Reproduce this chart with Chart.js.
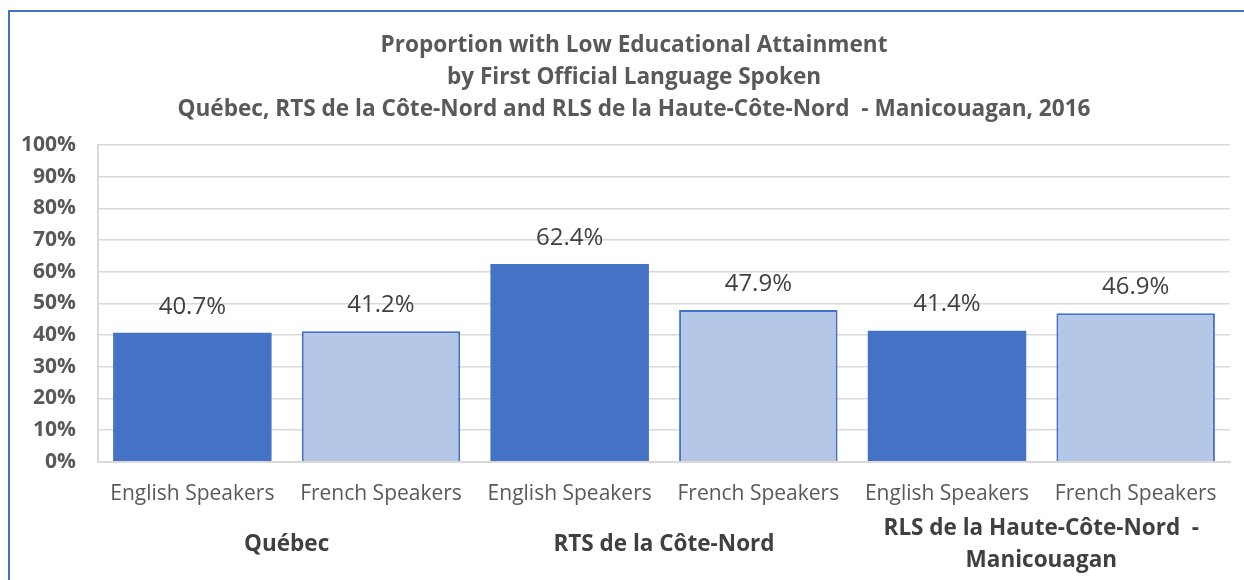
<!DOCTYPE html>
<html>
<head>
<meta charset="utf-8">
<script src="https://cdn.jsdelivr.net/npm/chart.js@4.4.0/dist/chart.umd.min.js"></script>
<style>
  html, body { margin: 0; padding: 0; background: #fff; }
  #wrap { position: relative; width: 1244px; height: 580px; overflow: hidden; }
  #frame { position: absolute; left: 8px; top: 10px; width: 1300px; height: 700px;
           border-left: 2px solid #4472C4; border-top: 2px solid #4472C4; pointer-events: none; }
  canvas { position: absolute; left: 0; top: 0; }
</style>
</head>
<body>
<div id="wrap">
  <canvas id="c" width="1244" height="580"></canvas>
  <div id="frame"></div>
</div>
<script>
const titleLines = [
  'Proportion with Low Educational Attainment',
  'by First Official Language Spoken',
  'Québec, RTS de la Côte-Nord and RLS de la Haute-Côte-Nord  - Manicouagan, 2016'
];
const categories = ['English Speakers', 'French Speakers', 'English Speakers', 'French Speakers', 'English Speakers', 'French Speakers'];
const groups = ['Québec', 'RTS de la Côte-Nord', ['RLS de la Haute-Côte-Nord  -', 'Manicouagan']];
const values = [40.7, 41.2, 62.4, 47.9, 41.4, 46.9];
const yTicks = [0, 10, 20, 30, 40, 50, 60, 70, 80, 90, 100];

const FONT = "'Open Sans', 'DejaVu Sans', sans-serif";
const english = '#4472C4', french = '#B4C7E7';
const fills = categories.map(c => c.startsWith('English') ? english : french);
const borders = categories.map(c => c.startsWith('English') ? 0 : 2);

const noClipPlugin = {
  id: 'noLabelClip',
  beforeDraw(chart) {
    chart.scales.y._computeLabelArea = () => undefined;
  }
};

const labelPlugin = {
  id: 'valueLabels',
  afterDatasetsDraw(chart) {
    const ctx = chart.ctx;
    const meta = chart.getDatasetMeta(0);
    ctx.save();
    ctx.font = "24px " + FONT;
    ctx.fillStyle = '#404040';
    ctx.textAlign = 'center';
    ctx.textBaseline = 'middle';
    meta.data.forEach((bar, i) => {
      ctx.fillText(values[i].toFixed(1) + '%', bar.x, bar.y - 26);
    });
    ctx.restore();
  }
};

const groupPlugin = {
  id: 'groupLabels',
  afterDraw(chart) {
    const x = chart.scales.x;
    const ctx = chart.ctx;
    ctx.save();
    ctx.font = "bold 22.5px " + FONT;
    ctx.fillStyle = '#404040';
    ctx.textAlign = 'center';
    ctx.textBaseline = 'middle';
    const centerY = 545, lh = 32;
    groups.forEach((g, i) => {
      const cx = (x.getPixelForValue(i * 2) + x.getPixelForValue(i * 2 + 1)) / 2;
      const lines = Array.isArray(g) ? g : [g];
      lines.forEach((l, j) => {
        ctx.fillText(l, cx, centerY + (j - (lines.length - 1) / 2) * lh);
      });
    });
    ctx.restore();
  }
};

new Chart(document.getElementById('c'), {
  type: 'bar',
  data: {
    labels: categories,
    datasets: [{
      data: values,
      backgroundColor: fills,
      borderColor: english,
      borderWidth: borders,
      borderSkipped: 'bottom',
      barPercentage: 0.84,
      categoryPercentage: 1.0
    }]
  },
  options: {
    responsive: false,
    animation: false,
    events: [],
    layout: { padding: { left: 38, right: 14, top: 0, bottom: 54 } },
    plugins: {
      legend: { display: false },
      tooltip: { enabled: false },
      title: {
        display: true,
        text: titleLines,
        color: '#595959',
        font: { family: FONT, size: 22.6, weight: 'bold', lineHeight: '32px' },
        padding: { top: 30, bottom: 19 }
      }
    },
    scales: {
      x: {
        grid: {
          display: true,
          drawTicks: false,
          lineWidth: 2,
          color: (c) => (c.index === 0 || c.index === categories.length) ? '#D9D9D9' : 'rgba(0,0,0,0)'
        },
        border: { display: true, color: '#D9D9D9', width: 2 },
        ticks: {
          color: '#595959',
          font: { family: FONT, size: 21 },
          padding: 19.5,
          maxRotation: 0,
          autoSkip: false
        }
      },
      y: {
        min: 0,
        max: 100,
        afterFit(scale) { scale.width = 60; },
        afterBuildTicks(scale) { scale.ticks = yTicks.map(v => ({ value: v })); },
        grid: { color: '#D9D9D9', lineWidth: 1.5, drawTicks: false },
        border: { display: true, color: '#D9D9D9', width: 2 },
        ticks: {
          color: '#595959',
          font: { family: FONT, size: 21, weight: 'bold' },
          padding: 22,
          callback: (v) => v + '%'
        }
      }
    }
  },
  plugins: [noClipPlugin, labelPlugin, groupPlugin]
});
</script>
</body>
</html>
